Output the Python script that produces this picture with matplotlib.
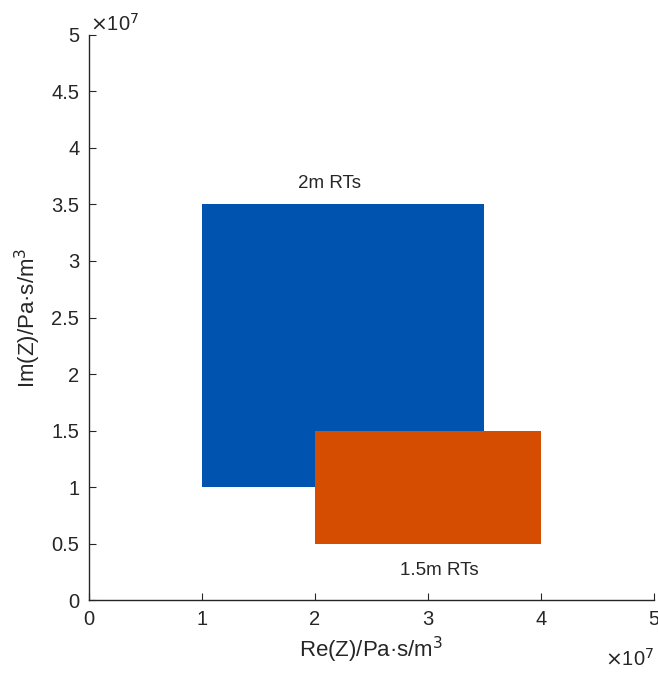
import matplotlib.pyplot as plt
from matplotlib.patches import Rectangle
from matplotlib.ticker import FuncFormatter

plt.rcParams['font.family'] = ['Liberation Sans', 'DejaVu Sans']

# rectangles: (x0, x1, y0, y1) in Pa·s/m^3
names = ['2m RTs', '1.5m RTs']
re_lo = [1.0e7, 2.0e7]
re_hi = [3.5e7, 4.0e7]
im_lo = [1.0e7, 0.5e7]
im_hi = [3.5e7, 1.5e7]
colors = ['#0053AF', '#D54D00']
label_xy = [(2.13e7, 3.69e7), (3.1e7, 0.26e7)]

scale = 1e7
ticks = [0, 0.5e7, 1e7, 1.5e7, 2e7, 2.5e7, 3e7, 3.5e7, 4e7, 4.5e7, 5e7]
xticks = [0, 1e7, 2e7, 3e7, 4e7, 5e7]

fig = plt.figure(figsize=(6.58, 6.79), dpi=100)
ax = fig.add_axes([0.1353, 0.1163, 0.8586, 0.8322])

for i in range(len(names)):
    ax.add_patch(Rectangle((re_lo[i], im_lo[i]), re_hi[i] - re_lo[i], im_hi[i] - im_lo[i],
                           facecolor=colors[i], edgecolor='none'))
    ax.text(label_xy[i][0], label_xy[i][1], names[i], ha='center', va='center',
            fontsize=13.5, color='#262626')

ax.set_xlim(0, 5e7)
ax.set_ylim(0, 5e7)
ax.set_xticks(xticks)
ax.set_yticks(ticks)
fmt = FuncFormatter(lambda v, p: f'{v / scale:g}')
ax.xaxis.set_major_formatter(fmt)
ax.yaxis.set_major_formatter(fmt)

for s in ['top', 'right']:
    ax.spines[s].set_visible(False)
for s in ['left', 'bottom']:
    ax.spines[s].set_color('#262626')
    ax.spines[s].set_linewidth(1.0)
ax.tick_params(direction='in', length=5, colors='#262626', labelsize=14.5, pad=7)

ax.set_xlabel('Re(Z)/Pa·s/m$^3$', fontsize=16, color='#262626', labelpad=4)
ax.set_ylabel('Im(Z)/Pa·s/m$^3$', fontsize=16, color='#262626', labelpad=6)

# exponent multipliers
ax.text(0.002, 1.0, r'$\times$10$^7$', transform=ax.transAxes, ha='left', va='bottom',
        fontsize=14.5, color='#262626')
ax.text(1.0, -0.085, r'$\times$10$^7$', transform=ax.transAxes, ha='right', va='top',
        fontsize=14.5, color='#262626')

fig.savefig('out.png', dpi=100)
